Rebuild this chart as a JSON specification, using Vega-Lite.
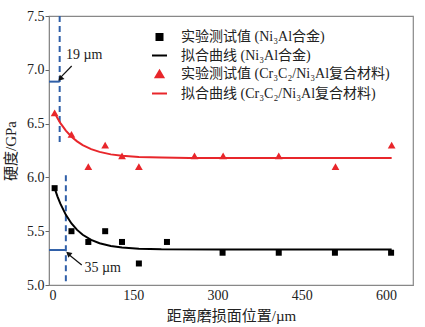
{
  "$schema": "https://vega.github.io/schema/vega-lite/v6.json",
  "width": 364,
  "height": 269,
  "autosize": "none",
  "padding": {"left": 49, "top": 16, "right": 12, "bottom": 42},
  "config": {
    "font": "Liberation Serif, Noto Sans CJK SC",
    "view": {"stroke": "#888888", "strokeWidth": 1.2},
    "axis": {"grid": false, "domainColor": "#888888", "tickColor": "#666666", "labelFont": "Liberation Serif", "labelColor": "#222222", "titleColor": "#222222", "labelFontSize": 14, "titleFontSize": 15, "titleFontWeight": "normal", "titleFont": "Liberation Serif, Noto Sans CJK SC"}
  },
  "datasets": {
    "pts": [
      {"x": 10, "y": 5.9, "series": "实验测试值 (Ni₃Al合金)"},
      {"x": 40, "y": 5.5, "series": "实验测试值 (Ni₃Al合金)"},
      {"x": 70, "y": 5.4, "series": "实验测试值 (Ni₃Al合金)"},
      {"x": 100, "y": 5.5, "series": "实验测试值 (Ni₃Al合金)"},
      {"x": 130, "y": 5.4, "series": "实验测试值 (Ni₃Al合金)"},
      {"x": 160, "y": 5.2, "series": "实验测试值 (Ni₃Al合金)"},
      {"x": 210, "y": 5.4, "series": "实验测试值 (Ni₃Al合金)"},
      {"x": 309, "y": 5.3, "series": "实验测试值 (Ni₃Al合金)"},
      {"x": 409, "y": 5.3, "series": "实验测试值 (Ni₃Al合金)"},
      {"x": 509, "y": 5.3, "series": "实验测试值 (Ni₃Al合金)"},
      {"x": 609, "y": 5.3, "series": "实验测试值 (Ni₃Al合金)"},
      {"x": 10, "y": 6.6, "series": "实验测试值 (Cr₃C₂/Ni₃Al复合材料)"},
      {"x": 40, "y": 6.4, "series": "实验测试值 (Cr₃C₂/Ni₃Al复合材料)"},
      {"x": 70, "y": 6.1, "series": "实验测试值 (Cr₃C₂/Ni₃Al复合材料)"},
      {"x": 100, "y": 6.3, "series": "实验测试值 (Cr₃C₂/Ni₃Al复合材料)"},
      {"x": 130, "y": 6.2, "series": "实验测试值 (Cr₃C₂/Ni₃Al复合材料)"},
      {"x": 160, "y": 6.1, "series": "实验测试值 (Cr₃C₂/Ni₃Al复合材料)"},
      {"x": 259, "y": 6.2, "series": "实验测试值 (Cr₃C₂/Ni₃Al复合材料)"},
      {"x": 310, "y": 6.2, "series": "实验测试值 (Cr₃C₂/Ni₃Al复合材料)"},
      {"x": 409, "y": 6.2, "series": "实验测试值 (Cr₃C₂/Ni₃Al复合材料)"},
      {"x": 510, "y": 6.1, "series": "实验测试值 (Cr₃C₂/Ni₃Al复合材料)"},
      {"x": 610, "y": 6.3, "series": "实验测试值 (Cr₃C₂/Ni₃Al复合材料)"}
    ],
    "curves": [
      {"x": 10, "y": 5.9, "series": "拟合曲线 (Ni₃Al合金)"},
      {"x": 15, "y": 5.824, "series": "拟合曲线 (Ni₃Al合金)"},
      {"x": 20, "y": 5.758, "series": "拟合曲线 (Ni₃Al合金)"},
      {"x": 30, "y": 5.652, "series": "拟合曲线 (Ni₃Al合金)"},
      {"x": 40, "y": 5.572, "series": "拟合曲线 (Ni₃Al合金)"},
      {"x": 50, "y": 5.512, "series": "拟合曲线 (Ni₃Al合金)"},
      {"x": 60, "y": 5.467, "series": "拟合曲线 (Ni₃Al合金)"},
      {"x": 75, "y": 5.419, "series": "拟合曲线 (Ni₃Al合金)"},
      {"x": 90, "y": 5.388, "series": "拟合曲线 (Ni₃Al合金)"},
      {"x": 110, "y": 5.363, "series": "拟合曲线 (Ni₃Al合金)"},
      {"x": 130, "y": 5.348, "series": "拟合曲线 (Ni₃Al合金)"},
      {"x": 160, "y": 5.338, "series": "拟合曲线 (Ni₃Al合金)"},
      {"x": 200, "y": 5.332, "series": "拟合曲线 (Ni₃Al合金)"},
      {"x": 300, "y": 5.33, "series": "拟合曲线 (Ni₃Al合金)"},
      {"x": 610, "y": 5.33, "series": "拟合曲线 (Ni₃Al合金)"},
      {"x": 10, "y": 6.6, "series": "拟合曲线 (Cr₃C₂/Ni₃Al复合材料)"},
      {"x": 15, "y": 6.551, "series": "拟合曲线 (Cr₃C₂/Ni₃Al复合材料)"},
      {"x": 20, "y": 6.507, "series": "拟合曲线 (Cr₃C₂/Ni₃Al复合材料)"},
      {"x": 30, "y": 6.435, "series": "拟合曲线 (Cr₃C₂/Ni₃Al复合材料)"},
      {"x": 40, "y": 6.378, "series": "拟合曲线 (Cr₃C₂/Ni₃Al复合材料)"},
      {"x": 50, "y": 6.335, "series": "拟合曲线 (Cr₃C₂/Ni₃Al复合材料)"},
      {"x": 60, "y": 6.3, "series": "拟合曲线 (Cr₃C₂/Ni₃Al复合材料)"},
      {"x": 75, "y": 6.263, "series": "拟合曲线 (Cr₃C₂/Ni₃Al复合材料)"},
      {"x": 90, "y": 6.237, "series": "拟合曲线 (Cr₃C₂/Ni₃Al复合材料)"},
      {"x": 110, "y": 6.214, "series": "拟合曲线 (Cr₃C₂/Ni₃Al复合材料)"},
      {"x": 130, "y": 6.201, "series": "拟合曲线 (Cr₃C₂/Ni₃Al复合材料)"},
      {"x": 160, "y": 6.19, "series": "拟合曲线 (Cr₃C₂/Ni₃Al复合材料)"},
      {"x": 200, "y": 6.184, "series": "拟合曲线 (Cr₃C₂/Ni₃Al复合材料)"},
      {"x": 250, "y": 6.181, "series": "拟合曲线 (Cr₃C₂/Ni₃Al复合材料)"},
      {"x": 300, "y": 6.18, "series": "拟合曲线 (Cr₃C₂/Ni₃Al复合材料)"},
      {"x": 610, "y": 6.18, "series": "拟合曲线 (Cr₃C₂/Ni₃Al复合材料)"}
    ]
  },
  "layer": [
    {
      "data": {"values": [{"x": 19, "y": 7.5, "y2": 6.3}, {"x": 30, "y": 6.02, "y2": 5.0}]},
      "mark": {"type": "rule", "color": "#2f5fa8", "strokeWidth": 2, "strokeDash": [6, 4]},
      "encoding": {
        "x": {"field": "x", "type": "quantitative", "scale": {"domain": [0, 648], "nice": false}, "axis": {"values": [0, 150, 300, 450, 600], "title": "距离磨损面位置/µm", "tickSize": 0, "labelPadding": 3, "titlePadding": 6, "encode": {"ticks": {"update": {"y2": {"value": -5}, "strokeWidth": {"value": 1}}}}}},
        "y": {"field": "y", "type": "quantitative", "scale": {"domain": [5, 7.5], "nice": false, "zero": false}, "axis": {"values": [5, 5.5, 6, 6.5, 7, 7.5], "format": ".1f", "title": "硬度/GPa", "tickSize": 4, "labelPadding": 1, "titlePadding": 8}},
        "y2": {"field": "y2"}
      }
    },
    {
      "data": {"values": [{"x": 0, "x2": 19, "y": 6.89}, {"x": 0, "x2": 30, "y": 5.325}]},
      "mark": {"type": "rule", "color": "#2f5fa8", "strokeWidth": 2},
      "encoding": {
        "x": {"field": "x", "type": "quantitative"},
        "x2": {"field": "x2"},
        "y": {"field": "y", "type": "quantitative"}
      }
    },
    {
      "data": {"name": "curves"},
      "mark": {"type": "line", "strokeWidth": 2},
      "encoding": {
        "x": {"field": "x", "type": "quantitative"},
        "y": {"field": "y", "type": "quantitative"},
        "color": {"field": "series", "type": "nominal"}
      }
    },
    {
      "data": {"name": "pts"},
      "mark": {"type": "point", "filled": true, "opacity": 1},
      "encoding": {
        "x": {"field": "x", "type": "quantitative"},
        "y": {"field": "y", "type": "quantitative"},
        "color": {
          "field": "series", "type": "nominal",
          "scale": {"domain": ["实验测试值 (Ni₃Al合金)", "拟合曲线 (Ni₃Al合金)", "实验测试值 (Cr₃C₂/Ni₃Al复合材料)", "拟合曲线 (Cr₃C₂/Ni₃Al复合材料)"], "range": ["#000000", "#000000", "#e8262b", "#e8262b"]},
          "legend": {
            "title": null, "orient": "none", "legendX": 102, "legendY": 14,
            "labelFontSize": 14, "labelFont": "Liberation Serif, Noto Sans CJK SC", "labelColor": "#222222", "labelLimit": 400, "rowPadding": 3, "labelOffset": 13,
            "symbolStrokeWidth": 2
          }
        },
        "shape": {"field": "series", "type": "nominal", "scale": {"domain": ["实验测试值 (Ni₃Al合金)", "拟合曲线 (Ni₃Al合金)", "实验测试值 (Cr₃C₂/Ni₃Al复合材料)", "拟合曲线 (Cr₃C₂/Ni₃Al复合材料)"], "range": ["square", "stroke", "triangle-up", "stroke"]}, "legend": {"title": null}},
        "size": {"field": "series", "type": "nominal", "scale": {"type": "ordinal", "domain": ["实验测试值 (Ni₃Al合金)", "拟合曲线 (Ni₃Al合金)", "实验测试值 (Cr₃C₂/Ni₃Al复合材料)", "拟合曲线 (Cr₃C₂/Ni₃Al复合材料)"], "range": [36, 225, 60, 225]}, "legend": {"title": null}}
      }
    },
    {
      "data": {"values": [{"x": 40.4, "y": 7.035, "x2": 19.0, "y2": 6.92}, {"x": 58.3, "y": 5.186, "x2": 33.5, "y2": 5.29}]},
      "mark": {"type": "rule", "color": "#111111", "strokeWidth": 1.2},
      "encoding": {
        "x": {"field": "x", "type": "quantitative"},
        "y": {"field": "y", "type": "quantitative"},
        "x2": {"field": "x2"},
        "y2": {"field": "y2"}
      }
    },
    {
      "data": {"values": [{"x": 20.1, "y": 6.916}]},
      "mark": {"type": "point", "shape": "triangle-up", "filled": true, "color": "#111111", "size": 40, "angle": 222, "opacity": 1},
      "encoding": {
        "x": {"field": "x", "type": "quantitative"},
        "y": {"field": "y", "type": "quantitative"}
      }
    },
    {
      "data": {"values": [{"x": 34.4, "y": 5.292}]},
      "mark": {"type": "point", "shape": "triangle-up", "filled": true, "color": "#111111", "size": 40, "angle": 310, "opacity": 1},
      "encoding": {
        "x": {"field": "x", "type": "quantitative"},
        "y": {"field": "y", "type": "quantitative"}
      }
    },
    {
      "data": {"values": [{"x": 30.3, "y": 7.14, "label": "19 µm"}, {"x": 63, "y": 5.16, "label": "35 µm"}]},
      "mark": {"type": "text", "align": "left", "baseline": "middle", "fontSize": 14, "font": "Liberation Serif", "color": "#222222"},
      "encoding": {
        "x": {"field": "x", "type": "quantitative"},
        "y": {"field": "y", "type": "quantitative"},
        "text": {"field": "label"}
      }
    }
  ]
}
